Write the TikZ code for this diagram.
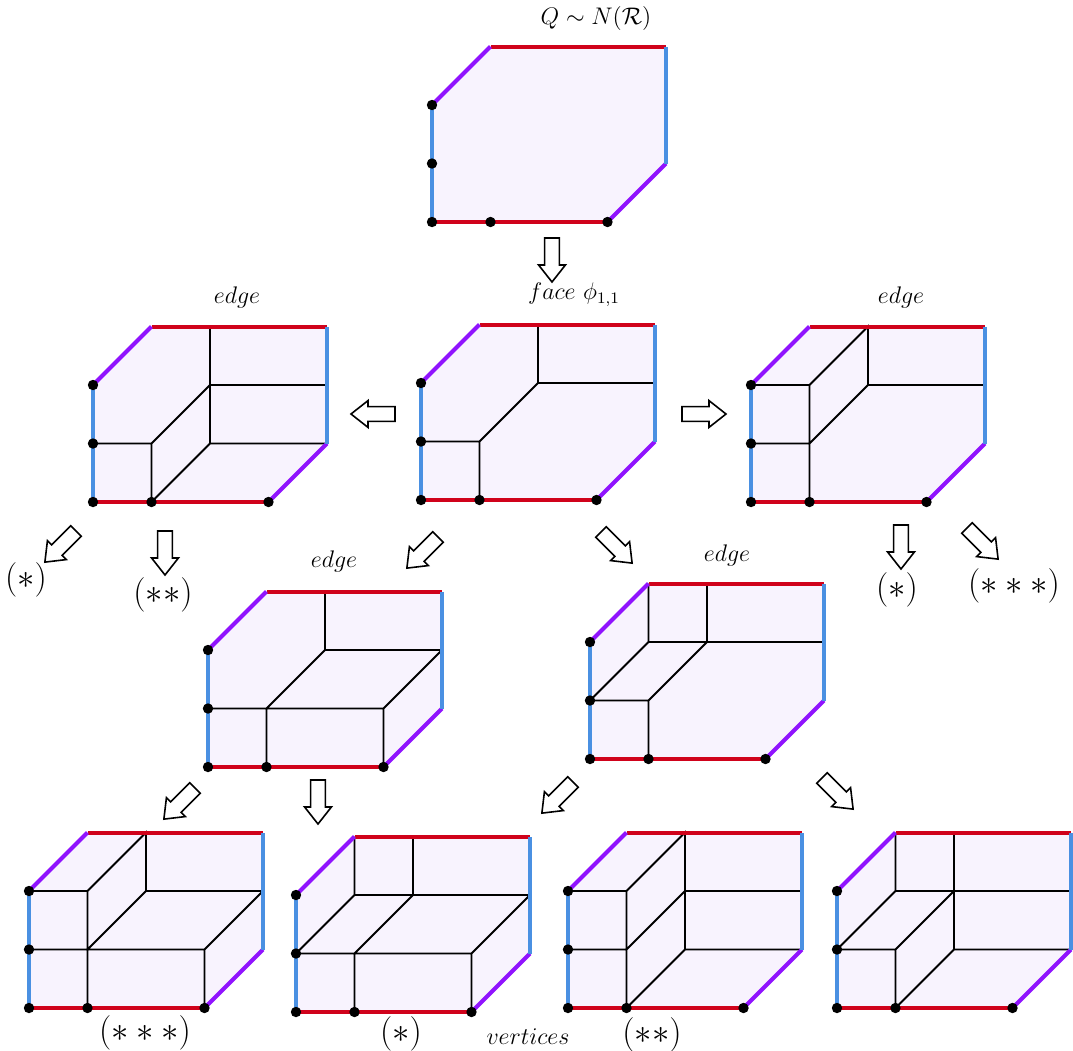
\documentclass[tikz,border=0pt]{standalone}
\definecolor{redc}{RGB}{208,2,27}
\definecolor{purc}{RGB}{144,19,254}
\definecolor{bluc}{RGB}{74,144,226}
\definecolor{fillc}{RGB}{248,243,254}
\tikzset{
  innerline/.style={line width=0.9pt, black},
  edgered/.style={line width=2pt, redc},
  edgepur/.style={line width=2pt, purc},
  edgeblu/.style={line width=2pt, bluc},
  blockarrow/.pic={
    \draw[line width=0.8pt, fill=white, line join=miter]
      (0pt,-3.7pt)--(13.5pt,-3.7pt)--(13.5pt,-6.7pt)--(22pt,0pt)
      --(13.5pt,6.7pt)--(13.5pt,3.7pt)--(0pt,3.7pt)--cycle;
    \coordinate (-tip) at (22pt,0pt);
  },
  smalllab/.style={font=\fontsize{11.5}{13}\selectfont, inner sep=0pt},
  biglab/.style={font=\fontsize{16}{19}\selectfont, inner sep=0pt},
}
\newcommand\hexa[3]{%
 \begin{scope}[shift={(#1,#2)}, x=29.25pt, y=29.25pt]
   \fill[fillc] (0,0)--(3,0)--(4,1)--(4,3)--(1,3)--(0,2)--cycle;
   \draw[innerline] #3;
   \draw[edgered] (0,0)--(3,0) (1,3)--(4,3);
   \draw[edgepur] (3,0)--(4,1) (0,2)--(1,3);
   \draw[edgeblu] (4,1)--(4,3) (0,0)--(0,2);
   \foreach \p in {(0,0),(1,0),(3,0),(0,1),(0,2)} \fill \p circle (2.6pt);
 \end{scope}}
\begin{document}
\begin{tikzpicture}[x=0.5pt, y=-0.5pt]
\useasboundingbox (0,0) rectangle (1073,1051);
% top
\hexa{432}{222}{}
% center face
\hexa{421}{500}{(1,0)--(1,1)--(0,1) (1,1)--(2,2)--(2,3) (2,2)--(4,2)}
% left edge
\hexa{93}{502}{(1,0)--(1,1)--(0,1) (1,1)--(2,2)--(2,3) (2,2)--(4,2) (2,2)--(2,1)--(4,1) (1,0)--(2,1)}
% right edge
\hexa{751}{502}{(1,0)--(1,2)--(0,2) (0,1)--(1,1) (1,1)--(2,2)--(4,2) (1,2)--(2,3)--(2,2)}
% middle-left edge
\hexa{208}{767}{(1,0)--(1,1)--(0,1) (1,1)--(2,2)--(2,3) (2,2)--(4,2) (1,1)--(3,1)--(3,0) (3,1)--(4,2)}
% middle-right edge
\hexa{590}{759}{(1,0)--(1,1)--(0,1) (1,1)--(2,2)--(4,2) (2,2)--(2,3) (0,1)--(1,2)--(2,2) (1,2)--(1,3)}
% bottom row
\hexa{29}{1008}{(0,2)--(1,2)--(1,0) (0,1)--(1,1) (1,2)--(2,3)--(2,2)--(4,2) (1,1)--(2,2) (1,1)--(3,1)--(3,0) (3,1)--(4,2)}
\hexa{296}{1012}{(1,3)--(1,2) (2,3)--(2,2) (1,2)--(4,2) (0,1)--(1,2) (1,1)--(2,2) (0,1)--(1,1)--(3,1)--(3,0) (1,1)--(1,0) (3,1)--(4,2)}
\hexa{568}{1008}{(0,2)--(1,2)--(1,0) (0,1)--(1,1) (1,2)--(2,3)--(2,1) (2,2)--(4,2) (2,1)--(4,1) (1,1)--(2,2) (1,0)--(2,1)}
\hexa{837}{1008}{(1,3)--(1,2) (2,3)--(2,1) (1,2)--(4,2) (0,1)--(1,2) (1,1)--(2,2) (0,1)--(1,1)--(1,0) (1,0)--(2,1)--(4,1)}
% block arrows
\pic[rotate=-90] (ar1) at (552,238) {blockarrow};
\pic[rotate=180] (ar2) at (395,414) {blockarrow};
\pic[rotate=0] (ar3) at (682,414) {blockarrow};
\pic[rotate=-135] (ar4) at (76,531) {blockarrow};
\pic[rotate=-90] (ar5) at (165,531) {blockarrow};
\pic[rotate=-135] (ar6) at (438,537) {blockarrow};
\pic[rotate=-45] (ar7) at (601,532) {blockarrow};
\pic[rotate=-90] (ar8) at (901,525) {blockarrow};
\pic[rotate=-45] (ar9) at (967,528) {blockarrow};
\pic[rotate=-135] (ar10) at (195,788) {blockarrow};
\pic[rotate=-90] (ar11) at (318,780) {blockarrow};
\pic[rotate=-135] (ar12) at (573,782) {blockarrow};
\pic[rotate=-45] (ar13) at (822,778) {blockarrow};
% labels
\node[smalllab] (qlab) at (596,18) {$Q\sim N(\mathcal{R})$};
\node[smalllab] (flab) at (574,295) {$face\ \phi_{1,1}$};
\node[smalllab] (e1) at (237,297) {$edge$};
\node[smalllab] (e2) at (901,297) {$edge$};
\node[smalllab] (e3) at (334,561) {$edge$};
\node[smalllab] (e4) at (727,555) {$edge$};
\node[smalllab] (vlab) at (528,1037) {$vertices$};
\node[biglab] (s1) at (26,580) {$(*)$};
\node[biglab] (s2) at (163,595) {$(**)$};
\node[biglab] (s3) at (897,590) {$(*)$};
\node[biglab] (s4) at (1014,586) {$(***)$};
\node[biglab] (s5) at (145,1033) {$(***)$};
\node[biglab] (s6) at (401,1034) {$(*)$};
\node[biglab] (s7) at (652,1035) {$(**)$};
\end{tikzpicture}
\end{document}
